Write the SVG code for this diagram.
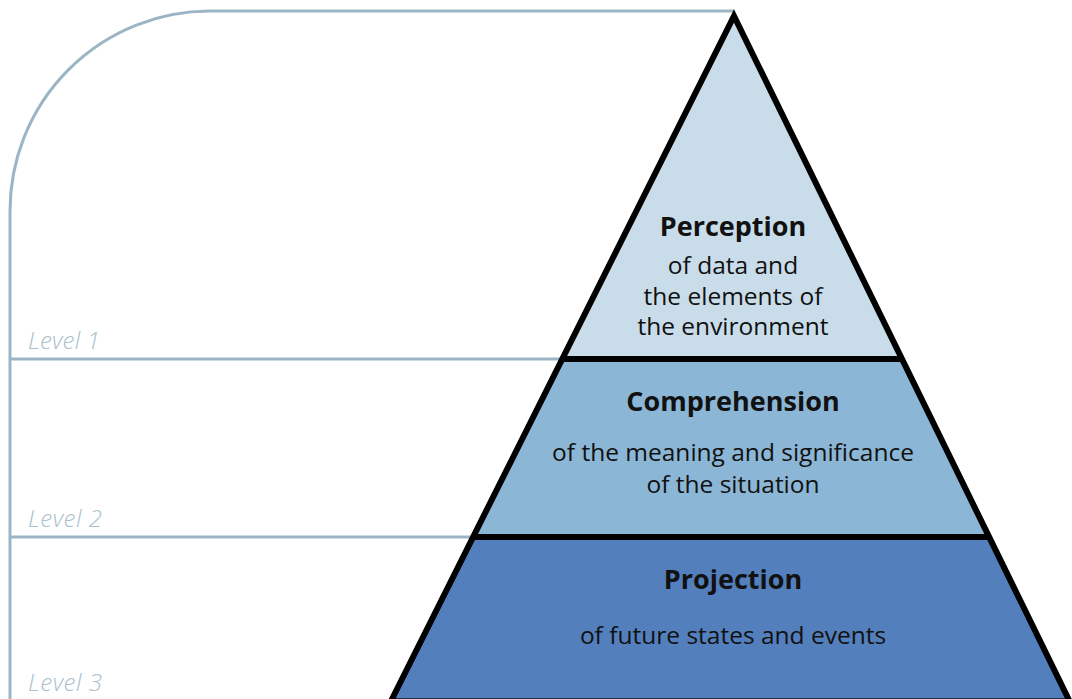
<svg xmlns="http://www.w3.org/2000/svg" width="1072" height="699" viewBox="0 0 1072 699">
<style>
.guide{fill:none;stroke:#9bb5c4;stroke-width:3}
.lvl{font-family:"Open Sans","Liberation Sans",sans-serif;font-style:italic;font-weight:300;font-size:24px;fill:#a9c0cd}
.outline{fill:none;stroke:#000;stroke-width:6;stroke-linejoin:miter}
.title{font-family:"Open Sans","Liberation Sans",sans-serif;font-weight:bold;font-size:27px;fill:#111;text-anchor:middle}
.sub{font-family:"Open Sans","Liberation Sans",sans-serif;font-size:24.5px;fill:#111;text-anchor:middle}
</style>
<g id="connectors">
<path class="guide" d="M734,11 H210 A200,200 0 0 0 10,211 V699"/>
<line class="guide" x1="10" y1="359" x2="570" y2="359"/>
<line class="guide" x1="10" y1="537" x2="480" y2="537"/>
</g>
<g id="labels">
<text class="lvl" x="28" y="349" textLength="72">Level 1</text>
<text class="lvl" x="28" y="527" textLength="74">Level 2</text>
<text class="lvl" x="28" y="691" textLength="74">Level 3</text>
</g>
<g id="projection">
<polygon points="473.5,537 989,537 1070,700 391,700" fill="#537fbd"/>
<line x1="391" y1="698.5" x2="1070" y2="698.5" stroke="#1e2c44" stroke-width="1"/>
<text class="title" x="733" y="589">Projection</text>
<text class="sub" x="733" y="644">of future states and events</text>
</g>
<g id="comprehension">
<polygon points="562.5,359 902,359 989,537 473.5,537" fill="#8bb6d6"/>
<text class="title" x="733" y="411">Comprehension</text>
<text class="sub" x="733" y="461">of the meaning and significance</text>
<text class="sub" x="733" y="493">of the situation</text>
</g>
<g id="perception">
<polygon points="734,16 902,359 562.5,359" fill="#c8dde9"/>
<text class="title" x="733" y="236">Perception</text>
<text class="sub" x="733" y="274">of data and</text>
<text class="sub" x="733" y="305">the elements of</text>
<text class="sub" x="733" y="335">the environment</text>
</g>
<g id="pyramid-outline">
<path class="outline" d="M391.5,700 L734,16 L1069,700"/>
<line class="outline" x1="562.5" y1="359" x2="902" y2="359"/>
<line class="outline" x1="473.5" y1="537" x2="989" y2="537"/>
</g>
</svg>
